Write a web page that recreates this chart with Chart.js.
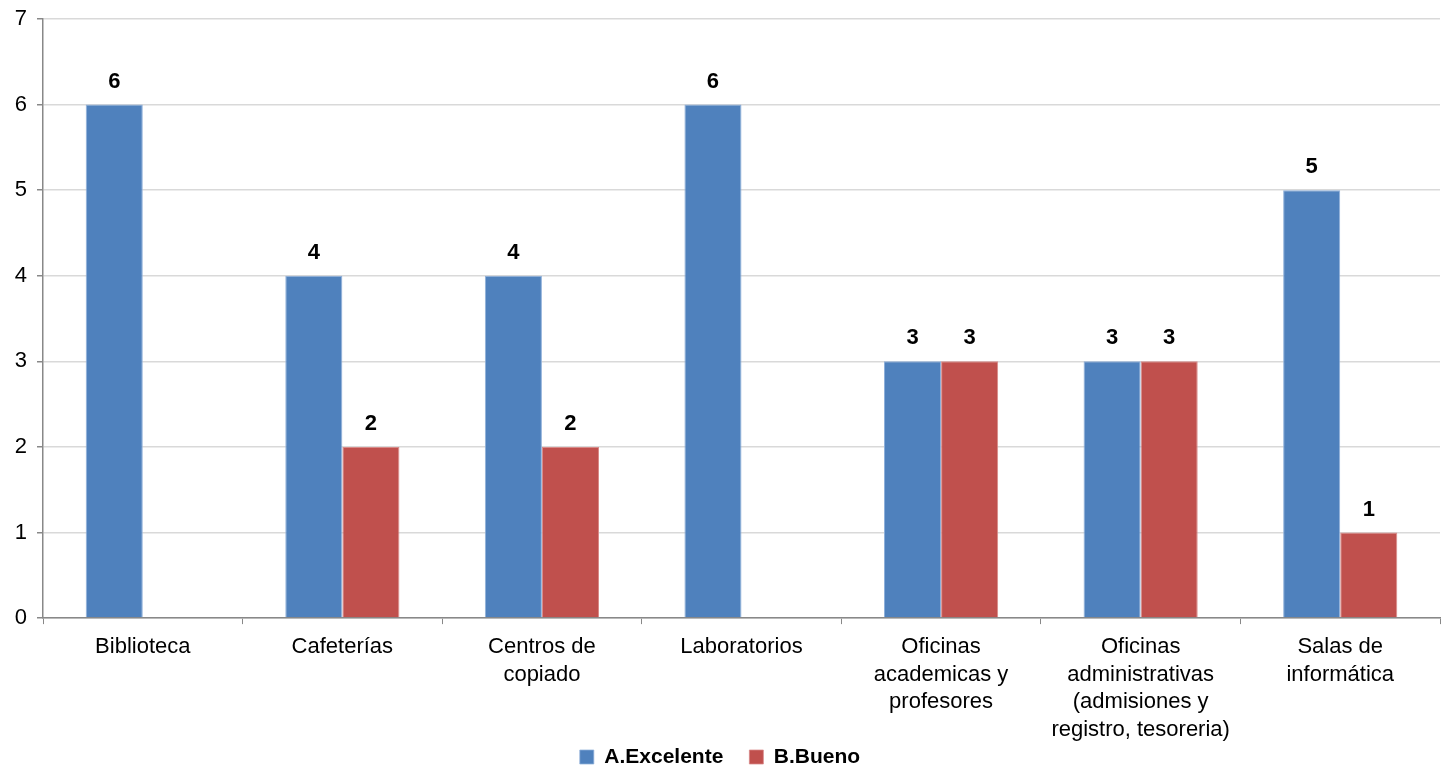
<!DOCTYPE html>
<html>
<head>
<meta charset="utf-8">
<script src="https://cdn.jsdelivr.net/npm/chart.js@4/dist/chart.umd.min.js"></script>
<style>
  html, body { margin: 0; padding: 0; background: #fff; overflow: hidden; }
  #wrap { width: 1445px; height: 767px; }
</style>
</head>
<body>
<div id="wrap"><canvas id="chart"></canvas></div>
<script>
const categories = [
  "Biblioteca",
  "Cafeterías",
  ["Centros de", "copiado"],
  "Laboratorios",
  ["Oficinas", "academicas y", "profesores"],
  ["Oficinas", "administrativas", "(admisiones y", "registro, tesoreria)"],
  ["Salas de", "informática"],
];
const excelente = [6, 4, 4, 6, 3, 3, 5];
const bueno = [0, 2, 2, 0, 3, 3, 1];
const yTicks = [0, 1, 2, 3, 4, 5, 6, 7];

const font = "'Liberation Sans', Arial, sans-serif";

// draws the bold numbers above each bar, skipping zeros
const barLabels = {
  id: "barLabels",
  afterDatasetsDraw(chart) {
    const ctx = chart.ctx;
    ctx.save();
    ctx.font = "bold 22px " + font;
    ctx.fillStyle = "#000";
    ctx.textAlign = "center";
    ctx.textBaseline = "alphabetic";
    chart.data.datasets.forEach((ds, i) => {
      chart.getDatasetMeta(i).data.forEach((bar, j) => {
        const v = ds.data[j];
        if (!v) return;
        ctx.fillText(String(v), bar.x, bar.y - 17);
      });
    });
    ctx.restore();
  },
};

// legend padding also spaces the items apart; keep the box short
// and draw the row a bit higher so it sits under the axis labels
const legendFit = {
  id: "legendFit",
  afterInit(chart) {
    const lg = chart.legend;
    const fit = lg.fit;
    lg.fit = function () {
      fit.call(this);
      this.height = 14;
    };
    const draw = lg.draw;
    lg.draw = function (area) {
      const top = this.top;
      this.top = 757 - 26 - 10.5;
      draw.call(this, area);
      this.top = top;
    };
  },
};

new Chart(document.getElementById("chart"), {
  type: "bar",
  data: {
    labels: categories,
    datasets: [
      {
        label: "A.Excelente",
        data: excelente,
        backgroundColor: "#4F81BD",
        borderColor: "#8FB0DA",
        borderWidth: { left: 1, right: 1, top: 1 },
      },
      {
        label: "B.Bueno",
        data: bueno,
        backgroundColor: "#C0504D",
        borderColor: "#D88A88",
        borderWidth: { left: 1, right: 1, top: 1 },
      },
    ],
  },
  options: {
    responsive: true,
    maintainAspectRatio: false,
    animation: false,
    categoryPercentage: 0.572,
    barPercentage: 1,
    layout: { padding: { top: 19, right: 5, left: 0, bottom: 0 } },
    plugins: {
      tooltip: { enabled: false },
      legend: {
        position: "bottom",
        labels: {
          color: "#000",
          font: { family: font, size: 21, weight: "bold" },
          boxWidth: 14,
          boxHeight: 14,
          padding: 26,
        },
      },
    },
    scales: {
      x: {
        grid: {
          display: true,
          drawOnChartArea: false,
          drawTicks: true,
          tickLength: 6,
          tickColor: "#888",
          offset: true,
        },
        border: { color: "#888", width: 1.5 },
        ticks: {
          color: "#000",
          font: { family: font, size: 22, lineHeight: 1.26 },
          maxRotation: 0,
          autoSkip: false,
          padding: 9,
        },
      },
      y: {
        min: 0,
        max: 7,
        afterFit: (scale) => {
          scale.width = 43;
          scale.paddingTop = 0;
        },
        afterBuildTicks: (scale) => {
          scale.ticks = yTicks.map((v) => ({ value: v }));
        },
        grid: {
          color: "#D9D9D9",
          lineWidth: 1.5,
          tickLength: 6,
          tickColor: "#888",
        },
        border: { color: "#888", width: 1.5 },
        ticks: {
          color: "#000",
          font: { family: font, size: 22 },
          padding: 10,
        },
      },
    },
  },
  plugins: [barLabels, legendFit],
});
</script>
</body>
</html>
